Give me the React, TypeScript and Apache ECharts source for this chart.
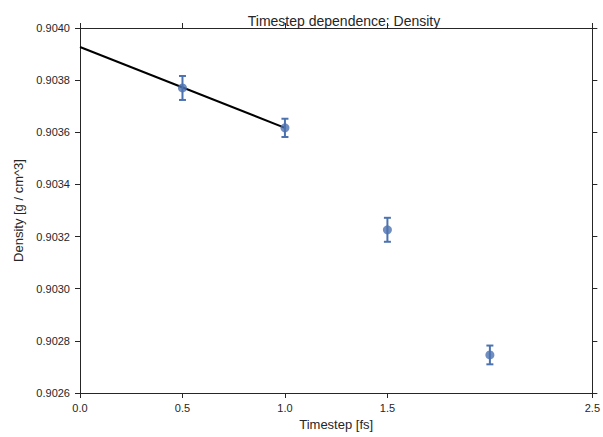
import React, { useEffect, useRef } from "react";
import * as echarts from "echarts";

const timesteps = [0.5, 1.0, 1.5, 2.0];
const densities = [0.90377, 0.903617, 0.903226, 0.902746];
const errors = [0.000046, 0.000035, 0.000046, 0.000036];
const fitX = [0.0, 1.0];
const fitY = [0.903927, 0.903617];
const xTicks = [0, 0.5, 1.0, 1.5, 2.5];

const BLUE = "#4C72B0";
const AX = "#262626";
const FONT = "Liberation Sans";

export default function App() {
  const ref = useRef<HTMLDivElement>(null);
  useEffect(() => {
    if (!ref.current) return;
    const chart = echarts.init(ref.current, undefined, { renderer: "svg" });
    const errData = timesteps.map((t, i) => [t, densities[i] - errors[i], densities[i] + errors[i]]);
    const xCommon = {
      type: "value" as const,
      min: 0,
      max: 2.5,
      splitLine: { show: false },
      axisLine: { show: true, onZero: false, lineStyle: { color: AX, width: 1 } },
      axisTick: { show: true, length: 5, customValues: xTicks, lineStyle: { color: AX } },
    };
    const yCommon = {
      type: "value" as const,
      min: 0.9026,
      max: 0.904,
      interval: 0.0002,
      splitLine: { show: false },
      axisLine: { show: true, onZero: false, lineStyle: { color: AX, width: 1 } },
      axisTick: { show: true, length: 5, lineStyle: { color: AX } },
    };
    chart.setOption({
      animation: false,
      backgroundColor: "#ffffff",
      title: {
        text: "Timestep dependence: Density",
        left: 339,
        textAlign: "center",
        top: 9,
        textStyle: { fontFamily: FONT, fontSize: 14, fontWeight: "normal", color: "#262626" },
      },
      grid: { left: 80, right: 9, top: 28, bottom: 44, containLabel: false },
      xAxis: [
        {
          ...xCommon,
          position: "bottom",
          name: "Timestep [fs]",
          nameLocation: "middle",
          nameGap: 24,
          nameTextStyle: { fontFamily: FONT, fontSize: 13, color: "#262626" },
          axisLabel: {
            customValues: xTicks,
            fontFamily: FONT,
            fontSize: 11,
            color: "#262626",
            margin: 9,
            formatter: (v: number) => v.toFixed(1),
          },
        },
        {
          ...xCommon,
          position: "top",
          axisLabel: { show: false },
        },
      ],
      yAxis: [
        {
          ...yCommon,
          position: "left",
          name: "Density [g / cm^3]",
          nameLocation: "middle",
          nameGap: 54,
          nameTextStyle: { fontFamily: FONT, fontSize: 13, color: "#262626" },
          axisLabel: {
            fontFamily: FONT,
            fontSize: 11,
            color: "#262626",
            margin: 10,
            formatter: (v: number) => v.toFixed(4),
          },
        },
        {
          ...yCommon,
          position: "right",
          axisLabel: { show: false },
        },
      ],
      series: [
        {
          type: "line",
          data: fitX.map((x, i) => [x, fitY[i]]),
          showSymbol: false,
          symbol: "none",
          lineStyle: { color: "#000000", width: 2 },
          z: 3,
        },
        {
          type: "custom",
          data: errData,
          z: 4,
          renderItem: (params: any, api: any) => {
            const x = api.value(0);
            const lo = api.coord([x, api.value(1)]);
            const hi = api.coord([x, api.value(2)]);
            const cw = 3.5;
            const st = { stroke: BLUE, lineWidth: 2 };
            return {
              type: "group",
              children: [
                { type: "line", shape: { x1: lo[0], y1: lo[1], x2: hi[0], y2: hi[1] }, style: st },
                { type: "line", shape: { x1: lo[0] - cw, y1: lo[1], x2: lo[0] + cw, y2: lo[1] }, style: st },
                { type: "line", shape: { x1: hi[0] - cw, y1: hi[1], x2: hi[0] + cw, y2: hi[1] }, style: st },
              ],
            };
          },
        },
        {
          type: "scatter",
          data: timesteps.map((t, i) => [t, densities[i]]),
          symbol: "circle",
          symbolSize: 9,
          itemStyle: { color: BLUE },
          z: 5,
        },
      ],
    });
    return () => chart.dispose();
  }, []);
  return <div ref={ref} style={{ width: 603, height: 437, position: "absolute", left: 0, top: 0 }} />;
}
